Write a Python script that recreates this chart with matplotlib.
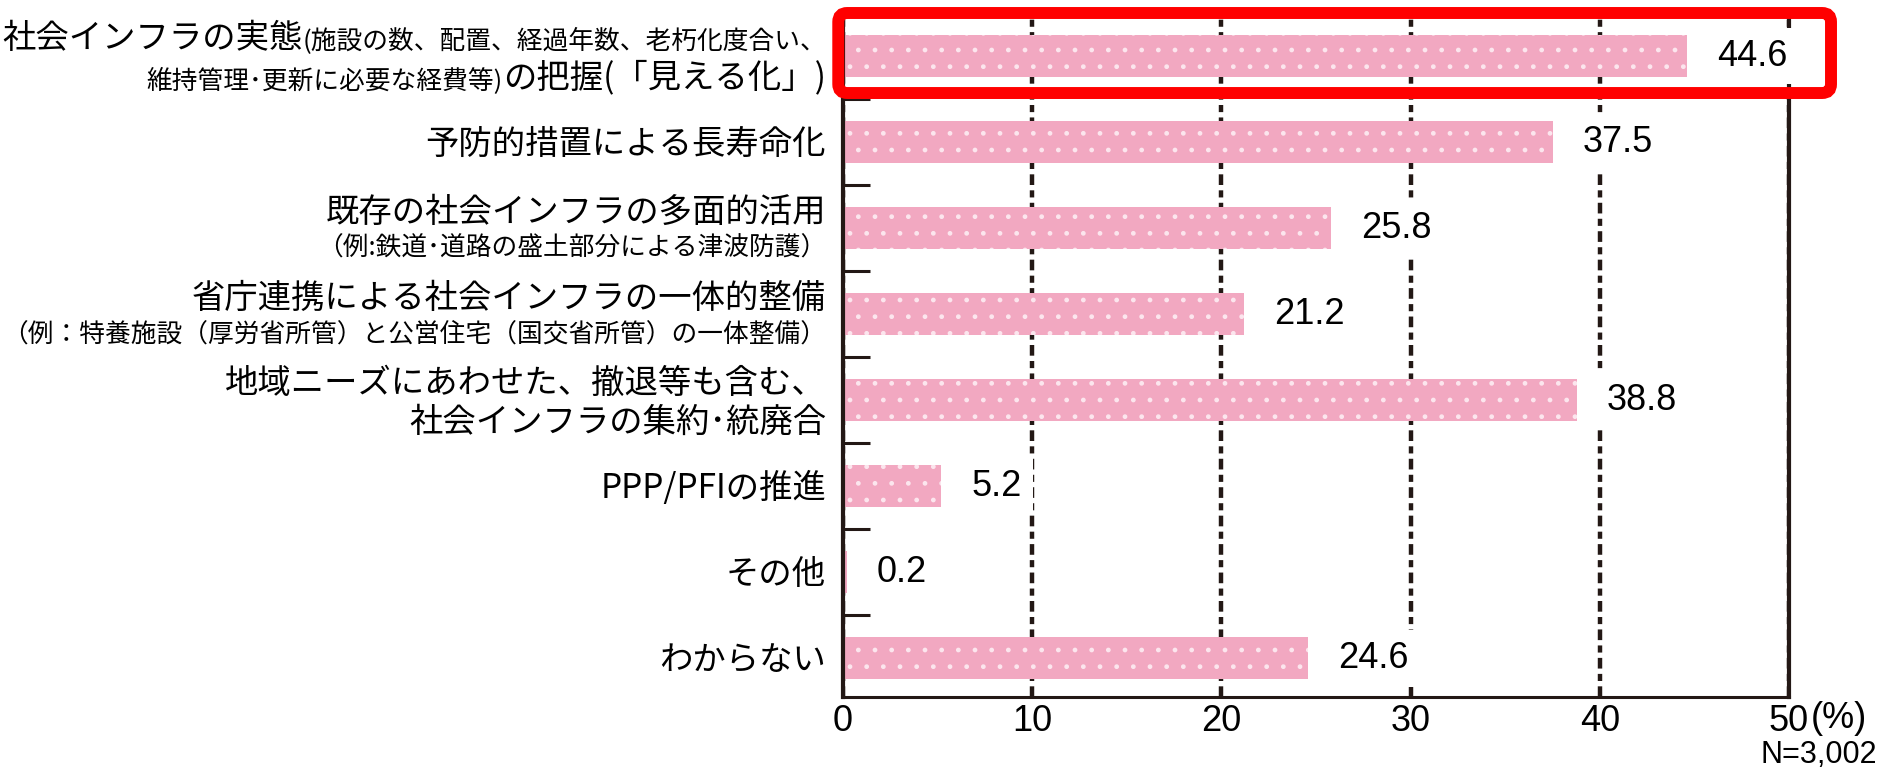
import numpy as np
import matplotlib
matplotlib.use('Agg')
import matplotlib.pyplot as plt
from matplotlib.patches import FancyBboxPatch
from matplotlib.transforms import blended_transform_factory, IdentityTransform

plt.rcParams['font.family'] = ['Liberation Sans', 'Noto Sans CJK JP', 'DejaVu Sans']
plt.rcParams['hatch.linewidth'] = 1.0

# data
values = [44.6, 37.5, 25.8, 21.2, 38.8, 5.2, 0.2, 24.6]
# one entry per bar: lines, each line = segments of (text, size key)
labels = [
    [[('社会インフラの実態', 'L'), ('(施設の数、配置、経過年数、老朽化度合い、', 'S')],
     [('維持管理･更新に必要な経費等)', 'S'), ('の把握(「見える化」)', 'L')]],
    [[('予防的措置による長寿命化', 'L')]],
    [[('既存の社会インフラの多面的活用', 'L')],
     [('（例:鉄道･道路の盛土部分による津波防護）', 'S')]],
    [[('省庁連携による社会インフラの一体的整備', 'L')],
     [('（例：特養施設（厚労省所管）と公営住宅（国交省所管）の一体整備）', 'S')]],
    [[('地域ニーズにあわせた、撤退等も含む、', 'L')],
     [('社会インフラの集約･統廃合', 'L')]],
    [[('PPP/PFIの推進', 'L')]],
    [[('その他', 'L')]],
    [[('わからない', 'L')]],
]
xticks = [0, 10, 20, 30, 40, 50]
highlight = 0
n_note = 'N=3,002'

# style
DARK = '#231815'
PINK = '#F2A8C1'
sizes = {'L': 24, 'S': 18.5}
cjk = ['Noto Sans CJK JP', 'DejaVu Sans']

W, H = 1903, 769
fig = plt.figure(figsize=(W / 100, H / 100), dpi=100)
ax = fig.add_axes([843 / W, 1 - 697 / H, (1789 - 843) / W, (697 - 13) / H])

y = np.arange(len(values))
ax.barh(y, values, height=0.49, color=PINK, edgecolor='#FCE6EE', linewidth=0,
        hatch='.', zorder=2)

ax.set_xlim(0, 50)
ax.set_ylim(len(values) - 0.55, -0.5)
ax.set_axisbelow(True)
ax.grid(axis='x', color=DARK, linewidth=3.2, linestyle=(0, (2.4, 1.2, 1.6, 1.2)))

ax.spines['top'].set_visible(False)
for side, lw in [('left', 3.0), ('right', 3.0), ('bottom', 2.2)]:
    ax.spines[side].set_color(DARK)
    ax.spines[side].set_linewidth(lw)

ax.set_yticks(np.arange(0.5, len(values) - 1, 1))
ax.set_yticklabels([])
ax.tick_params(axis='y', direction='in', length=19.5, width=2.2, color=DARK)

ax.set_xticks(xticks)
ax.set_xticklabels([str(t) for t in xticks], fontsize=26)
ax.tick_params(axis='x', length=0, pad=5)
ax.annotate('(%)', xy=(xticks[-1], 0), xycoords=('data', 'axes fraction'),
            xytext=(22, -21), textcoords='offset pixels', ha='left', va='center',
            fontsize=26)

# value labels
for i, v in enumerate(values):
    ax.annotate('{:.1f}'.format(v), xy=(v, i), xytext=(30, 0),
                textcoords='offset pixels', ha='left', va='center', fontsize=26,
                bbox=dict(boxstyle='square,pad=0.3', facecolor='white', edgecolor='none'),
                zorder=3, annotation_clip=False)

# category labels, drawn segment by segment from the right
renderer = fig.canvas.get_renderer()
ytrans = ax.get_yaxis_transform()
px = 100 / 72
for i, lines in enumerate(labels):
    heights = [max(sizes[k] for _, k in line) * px for line in lines]
    centers = [0.0]
    for a, b in zip(heights[:-1], heights[1:]):
        centers.append(centers[-1] + 0.5 * (a + b) + 6)
    shift = (centers[0] + centers[-1]) / 2
    for line, c, h in zip(lines, centers, heights):
        base = c - shift + 0.36 * h
        x_off = -17
        for text, key in reversed(line):
            t = ax.annotate(text, xy=(0, i), xycoords=ytrans, xytext=(x_off, -base),
                            textcoords='offset pixels', ha='right', va='baseline',
                            fontsize=sizes[key], family=cjk, annotation_clip=False)
            x_off -= t.get_window_extent(renderer).width

fig.text(1877 / W, 1 - 755 / H, n_note, ha='right', va='center', fontsize=22)

# red highlight frame round the first item
btrans = blended_transform_factory(ax.transAxes, ax.transData)
xa, ya = btrans.transform((-0.005, highlight - 0.5))
xb, yb = btrans.transform((1.0444, highlight + 0.43))
frame = FancyBboxPatch((min(xa, xb), min(ya, yb)), abs(xb - xa), abs(yb - ya),
                       boxstyle='round,pad=0,rounding_size=9', transform=IdentityTransform(),
                       facecolor='none', edgecolor='#FF0000', linewidth=8.6, zorder=10)
fig.add_artist(frame)

fig.savefig('out.png', dpi=100)
